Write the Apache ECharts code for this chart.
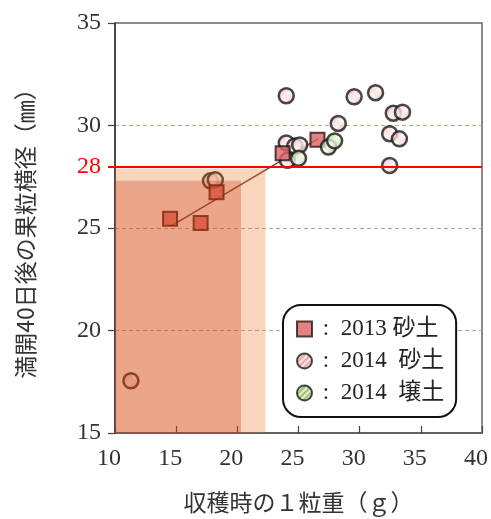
<!DOCTYPE html>
<html>
<head>
<meta charset="utf-8">
<script src="https://cdn.jsdelivr.net/npm/echarts@6/dist/echarts.min.js"></script>
<style>
  html, body { margin: 0; padding: 0; background: #fff; }
  #chart { width: 491px; height: 519px; }
</style>
</head>
<body>
<div id="chart"></div>
<script>
// Berry weight at harvest (g) vs berry diameter 40 days after full bloom (mm)
const sand2013 = [[14.5, 25.45], [17.0, 25.25], [18.3, 26.75], [23.7, 28.65], [26.55, 29.3]];
const sand2014 = [
  [11.3, 17.55], [17.8, 27.3], [18.2, 27.35], [24.0, 31.45], [24.0, 29.15],
  [24.7, 29.0], [25.1, 29.05], [24.1, 28.3], [28.25, 30.1], [29.55, 31.4],
  [31.3, 31.6], [32.75, 30.6], [33.5, 30.65], [32.45, 29.6], [33.25, 29.35],
  [32.45, 28.05]
];
const loam2014 = [[25.0, 28.4], [27.45, 28.95], [27.95, 29.25]];
const trend2013 = [[14.6, 25.1], [26.6, 29.35]];
// shaded zones: [xMin, yMin, xMax, yMax]
const zoneOuter = [[10, 15, 22.3, 27.9]];
const zoneInner = [[10, 15, 20.3, 27.3]];
const targetDiameter = 28;
const seriesNames = ['2013 砂土', '2014  砂土', '2014  壌土'];

const serif = "'Liberation Serif', 'DejaVu Serif', 'Noto Sans CJK JP'";
const cjk = "'Noto Sans CJK JP', 'Liberation Serif'";

// diagonal-stripe fill for the hatched markers
function hatch(bg, fg) {
  const s = 6;
  const c = document.createElement('canvas');
  c.width = s; c.height = s;
  const g = c.getContext('2d');
  g.fillStyle = bg;
  g.fillRect(0, 0, s, s);
  g.strokeStyle = fg;
  g.lineWidth = 1.5;
  g.beginPath();
  g.moveTo(0, s); g.lineTo(s, 0);
  g.moveTo(-1, 1); g.lineTo(1, -1);
  g.moveTo(s - 1, s + 1); g.lineTo(s + 1, s - 1);
  g.stroke();
  return { image: c, repeat: 'repeat' };
}

// translucent shaded rectangle drawn over the points
function zoneSeries(data, fill) {
  return {
    type: 'custom',
    silent: true,
    z: 4,
    data: data,
    renderItem: function (params, api) {
      const p0 = api.coord([api.value(0), api.value(1)]);
      const p1 = api.coord([api.value(2), api.value(3)]);
      return {
        type: 'rect',
        shape: { x: p0[0], y: p1[1], width: p1[0] - p0[0], height: p0[1] - p1[1] },
        style: { fill: fill }
      };
    }
  };
}

const chart = echarts.init(document.getElementById('chart'));
chart.setOption({
  animation: false,
  backgroundColor: '#fff',
  grid: {
    left: 115, right: 8, top: 23, bottom: 84,
    show: true, borderColor: '#666', borderWidth: 1.5
  },
  legend: {
    data: seriesNames,
    orient: 'vertical',
    left: 283, top: 305,
    backgroundColor: '#fff',
    borderColor: '#111', borderWidth: 2, borderRadius: 18,
    padding: [12, 12, 12, 13],
    itemGap: 8, itemWidth: 15, itemHeight: 15,
    formatter: n => ' :  ' + n,
    textStyle: { fontSize: 23, lineHeight: 24, fontFamily: serif, color: '#222' }
  },
  xAxis: {
    type: 'value', min: 10, max: 40, interval: 5,
    name: '収穫時の１粒重（ｇ）',
    nameLocation: 'middle', nameGap: 58,
    nameTextStyle: { fontSize: 23, fontFamily: cjk, color: '#333' },
    axisLine: { show: true, lineStyle: { color: '#555', width: 1.5 } },
    axisTick: { show: true, inside: true, length: 7, lineStyle: { color: '#444', width: 1.2 } },
    axisLabel: { fontSize: 24, fontFamily: serif, color: '#333', margin: 14, padding: [0, 12, 0, 0] },
    splitLine: { show: false }
  },
  yAxis: [{
    type: 'value', min: 15, max: 35, interval: 5,
    name: '満開40日後の果粒横径（㎜）',
    nameLocation: 'middle', nameGap: 78, nameRotate: 90,
    nameTextStyle: { fontSize: 23, fontFamily: cjk, color: '#333' },
    axisLine: { show: true, lineStyle: { color: '#333', width: 1.5 } },
    axisTick: { show: true, inside: false, length: 7, lineStyle: { color: '#444', width: 1.2 } },
    axisLabel: { fontSize: 24, fontFamily: serif, color: '#333', margin: 14 },
    splitLine: {
      show: true, showMinLine: false, showMaxLine: false,
      lineStyle: { color: '#b5ab86', type: [4, 3], width: 1.2 }
    }
  }, {
    type: 'value', min: 15, max: 35, position: 'left',
    axisLine: { show: false },
    axisTick: { show: true, inside: false, length: 7, customValues: [targetDiameter], lineStyle: { color: '#ff0000', width: 2 } },
    axisLabel: { fontSize: 24, fontFamily: serif, color: '#ff0000', margin: 14, customValues: [targetDiameter] },
    splitLine: { show: false }
  }],
  series: [
    {
      type: 'line', data: trend2013, symbol: 'none', z: 2,
      lineStyle: { color: '#6e4a3c', width: 1.5 }, silent: true
    },
    {
      name: seriesNames[1], type: 'scatter', data: sand2014, z: 3,
      symbol: 'circle', symbolSize: 15,
      itemStyle: { color: hatch('#e99696', '#ffffff'), borderColor: '#1a1a1a', borderWidth: 2.5 }
    },
    {
      name: seriesNames[0], type: 'scatter', data: sand2013, z: 3,
      symbol: 'rect', symbolSize: 14,
      itemStyle: { color: '#dc6266', borderColor: '#2a1410', borderWidth: 2 }
    },
    {
      name: seriesNames[2], type: 'scatter', data: loam2014, z: 3,
      symbol: 'circle', symbolSize: 15,
      itemStyle: { color: hatch('#8db852', '#ffffff'), borderColor: '#1a1a1a', borderWidth: 2.5 }
    },
    zoneSeries(zoneOuter, 'rgba(229,103,11,0.27)'),
    zoneSeries(zoneInner, 'rgba(202,39,7,0.28)'),
    {
      type: 'line', data: [], z: 6, silent: true,
      markLine: {
        silent: true, symbol: 'none', label: { show: false },
        lineStyle: { color: '#ff0000', width: 2, type: 'solid' },
        data: [{ yAxis: targetDiameter }]
      }
    }
  ]
});
</script>
</body>
</html>
